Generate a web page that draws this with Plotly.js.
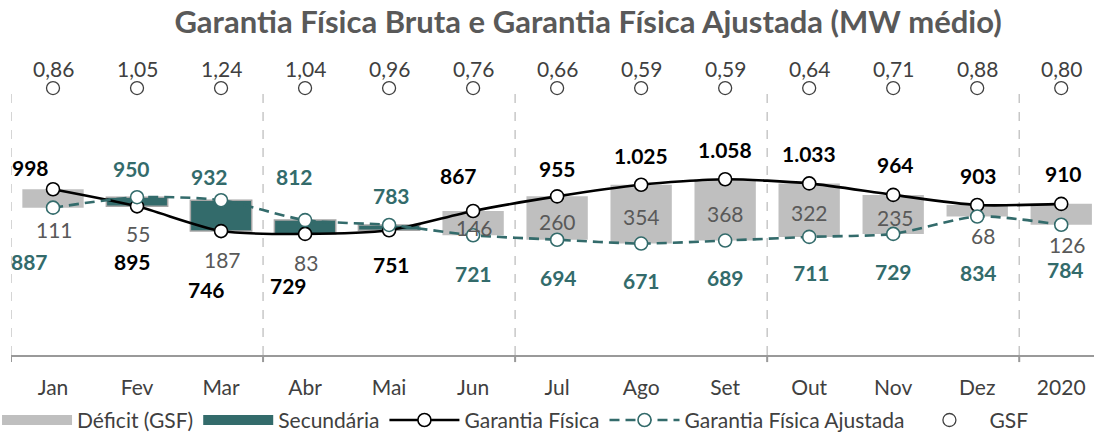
<!DOCTYPE html>
<html>
<head>
<meta charset="utf-8">
<script src="https://cdn.plot.ly/plotly-3.0.1.min.js"></script>
<style>
  html, body { margin: 0; padding: 0; background: #ffffff; }
  #chart { width: 1094px; height: 434px; }
</style>
</head>
<body>
<div id="chart"></div>
<script>
// ---------------- DATA ----------------
const categories = ['Jan', 'Fev', 'Mar', 'Abr', 'Mai', 'Jun', 'Jul', 'Ago', 'Set', 'Out', 'Nov', 'Dez', '2020'];
const garantiaFisica = [998, 895, 746, 729, 751, 867, 955, 1025, 1058, 1033, 964, 903, 910];
const garantiaFisicaAjustada = [887, 950, 932, 812, 783, 721, 694, 671, 689, 711, 729, 834, 784];
const gsf = [0.86, 1.05, 1.24, 1.04, 0.96, 0.76, 0.66, 0.59, 0.59, 0.64, 0.71, 0.88, 0.80];
// bar labels as printed in the chart (difference between the two series)
const diffLabels = [111, 55, 187, 83, null, 146, 260, 354, 368, 322, 235, 68, 126];

// ---------------- STYLE ----------------
const FONT = 'Lato, "Open Sans", sans-serif';
const TEAL = '#336B6B';
const GREY_BAR = '#BFBFBF';
const TXT = '#404040';
const LBL_GREY = '#595959';

// label offsets (pixels) – placement of data labels
const gfShift = [[-23, 22], [-5, -55], [-15, -58], [-17, -52], [2, -34], [-15, 35], [0, 28], [0, 29], [0, 30], [0, 30], [2, 30], [1, 30], [2, 30]];
const gfaShift = [[-24, -54], [-6, 29], [-12, 24], [-11, 44], [2, 29], [0, -38], [1, -38], [0, -37], [0, -37], [2, -36], [0, -38], [1, -56], [4, -45]];
const diffShift = [[1, -22], [1, -27], [1, -28], [1, -29], [0, 0], [1, 8], [0, 18], [0, 27], [0, 27], [0, 24], [2, 16], [6, -19], [6, -20]];

function fmtInt(v) {
  return String(Math.round(v)).replace(/\B(?=(\d{3})+(?!\d))/g, '.');
}
function fmtDec(v) {
  return v.toFixed(2).replace('.', ',');
}

// derived bar geometry from the two series
const deficitLen = garantiaFisica.map((g, i) => g > garantiaFisicaAjustada[i] ? g - garantiaFisicaAjustada[i] : null);
const deficitBase = garantiaFisica.map((g, i) => g > garantiaFisicaAjustada[i] ? garantiaFisicaAjustada[i] : null);
const secLen = garantiaFisica.map((g, i) => g < garantiaFisicaAjustada[i] ? garantiaFisicaAjustada[i] - g : null);
const secBase = garantiaFisica.map((g, i) => g < garantiaFisicaAjustada[i] ? g : null);
const lowVal = garantiaFisica.map((g, i) => Math.min(g, garantiaFisicaAjustada[i]));
const idx = categories.map((c, i) => i);

const traces = [
  {
    type: 'bar', name: 'Déficit (GSF)', x: categories, y: deficitLen, base: deficitBase, showlegend: false,
    width: 0.73, marker: { color: GREY_BAR, line: { width: 0 } }, hoverinfo: 'skip'
  },
  {
    type: 'bar', name: 'Secundária', x: categories, y: secLen, base: secBase, showlegend: false,
    width: 0.73, marker: { color: TEAL, line: { color: '#A6A6A6', width: 1.5 } }, hoverinfo: 'skip'
  },
  // legend swatches for the bar series (wide rectangles)
  {
    type: 'scatter', mode: 'lines', name: 'Déficit (GSF)', x: [null], y: [null],
    line: { color: GREY_BAR, width: 14 }, hoverinfo: 'skip'
  },
  {
    type: 'scatter', mode: 'lines', name: 'Secundária', x: [null], y: [null],
    line: { color: TEAL, width: 14 }, hoverinfo: 'skip'
  },
  {
    type: 'scatter', mode: 'lines+markers', name: 'Garantia Física', x: categories, y: garantiaFisica,
    line: { color: '#000000', width: 2.6, shape: 'spline', smoothing: 0.7 },
    marker: { symbol: 'circle', size: 13, color: '#ffffff', line: { color: '#000000', width: 1.6 } }
  },
  {
    type: 'scatter', mode: 'lines+markers', name: 'Garantia Física Ajustada', x: categories, y: garantiaFisicaAjustada,
    line: { color: TEAL, width: 2.6, dash: '10px,6px', shape: 'spline', smoothing: 0.7 },
    marker: { symbol: 'circle', size: 13, color: '#ffffff', line: { color: TEAL, width: 1.6 } }
  },
  {
    type: 'scatter', mode: 'markers', name: 'GSF', x: categories, y: gsf.map(() => 1), yaxis: 'y2',
    marker: { symbol: 'circle-open', size: 13, color: TXT, line: { width: 1.3 } },
    cliponaxis: false, hoverinfo: 'skip'
  }
];

const annotations = [];
idx.forEach(i => {
  annotations.push({
    x: i, y: garantiaFisica[i], xref: 'x', yref: 'y', text: fmtInt(garantiaFisica[i]), showarrow: false,
    xshift: gfShift[i][0], yshift: gfShift[i][1],
    font: { family: FONT, size: 21, color: '#000000', weight: 'bold' }
  });
  annotations.push({
    x: i, y: garantiaFisicaAjustada[i], xref: 'x', yref: 'y', text: fmtInt(garantiaFisicaAjustada[i]), showarrow: false,
    xshift: gfaShift[i][0], yshift: gfaShift[i][1],
    font: { family: FONT, size: 21, color: TEAL, weight: 'bold' }
  });
  if (diffLabels[i] !== null) {
    annotations.push({
      x: i, y: lowVal[i], xref: 'x', yref: 'y', text: fmtInt(diffLabels[i]), showarrow: false,
      xshift: diffShift[i][0], yshift: diffShift[i][1],
      font: { family: FONT, size: 21, color: LBL_GREY }
    });
  }
  // GSF value above its circle
  annotations.push({
    x: i, y: 1, xref: 'x', yref: 'y2', text: fmtDec(gsf[i]), showarrow: false,
    yshift: 20, font: { family: FONT, size: 21, color: TXT }
  });
});

// quarter separators (category boundaries) and axis ticks
const boundaries = [-0.5, 2.5, 5.5, 8.5, 11.5];
const GRID_TOP = 0.8915;
const shapes = [];
boundaries.forEach(b => {
  shapes.push({ type: 'line', xref: 'x', yref: 'paper', x0: b, x1: b, y0: 0, y1: GRID_TOP,
    line: { color: '#BFBFBF', width: 1.3, dash: 'dash' }, layer: 'below' });
  shapes.push({ type: 'line', xref: 'x', yref: 'paper', x0: b, x1: b, y0: 0, y1: -0.024,
    line: { color: '#999999', width: 2 } });
});

const layout = {
  width: 1094, height: 434,
  margin: { l: 11, r: 0, t: 60, b: 79, pad: 0, autoexpand: false },
  paper_bgcolor: '#ffffff', plot_bgcolor: '#ffffff',
  font: { family: FONT, size: 21, color: TXT },
  separators: ',.',
  title: {
    text: 'Garantia Física Bruta e Garantia Física Ajustada (MW médio)',
    font: { family: FONT, size: 31, color: '#595959', weight: 'bold' },
    x: 0.5375, xanchor: 'center', xref: 'container', y: 0.949, yanchor: 'middle', yref: 'container'
  },
  barmode: 'overlay',
  showlegend: true,
  legend: {
    orientation: 'h', x: -0.0129, xanchor: 'left',
    y: -0.152, yanchor: 'top',
    font: { family: FONT, size: 21, color: TXT }, itemwidth: 70, tracegroupgap: 0,
    bgcolor: 'rgba(0,0,0,0)', traceorder: 'normal'
  },
  xaxis: {
    type: 'category', range: [-0.5, 12.39], showgrid: false, zeroline: false, automargin: false,
    showline: true, linecolor: '#999999', linewidth: 2, ticks: '', ticklabelstandoff: 13,
    tickfont: { family: FONT, size: 21, color: TXT }, fixedrange: true
  },
  yaxis: {
    range: [0, 1776], visible: false, showgrid: false, zeroline: false, fixedrange: true, automargin: false
  },
  yaxis2: {
    overlaying: 'y', range: [0, 1.105], visible: false, showgrid: false, zeroline: false, fixedrange: true
  },
  annotations: annotations,
  shapes: shapes
};

Plotly.newPlot('chart', traces, layout, { displayModeBar: false, staticPlot: true });
</script>
</body>
</html>
